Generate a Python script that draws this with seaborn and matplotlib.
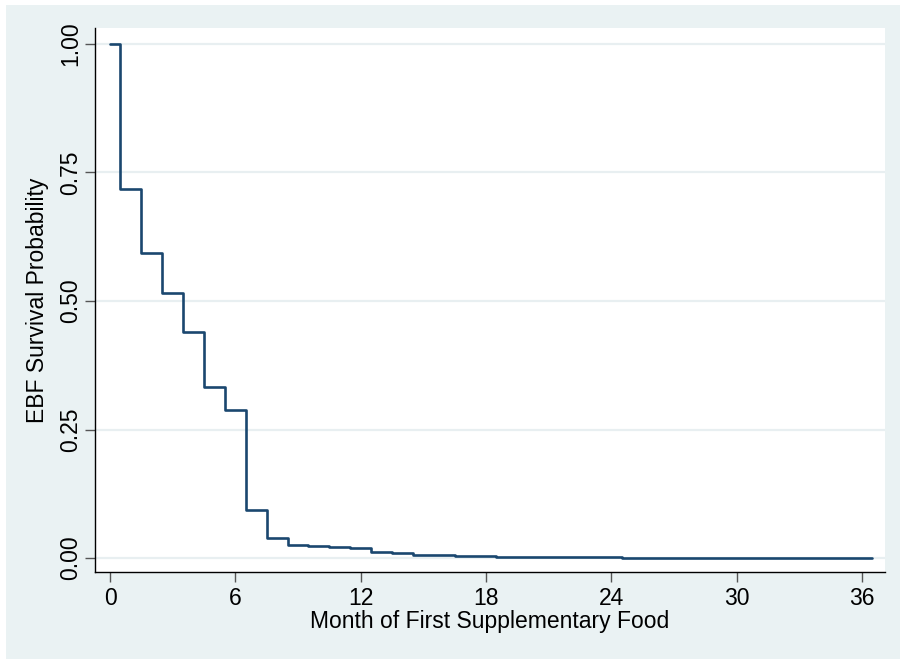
import matplotlib
matplotlib.use("Agg")
import matplotlib.pyplot as plt
from matplotlib.patches import Rectangle
import seaborn as sns
import pandas as pd

# Kaplan-Meier step data (month, survival probability)
months = [0, 0.5, 1.5, 2.5, 3.5, 4.5, 5.5, 6.5, 7.5, 8.5, 9.5, 10.5, 11.5,
          12.5, 13.5, 14.5, 15.5, 16.5, 17.5, 18.5, 19.5, 20.5, 22.5, 23.5,
          24.5, 36.5]
survival = [1.0, 0.718, 0.594, 0.515, 0.440, 0.333, 0.289, 0.093, 0.040,
            0.026, 0.023, 0.021, 0.0195, 0.011, 0.009, 0.007, 0.0058, 0.0045,
            0.0032, 0.0026, 0.0024, 0.0023, 0.0022, 0.0021, 0.0006, 0.0006]
x_ticks = [0, 6, 12, 18, 24, 30, 36]
y_ticks = [0.0, 0.25, 0.5, 0.75, 1.0]
y_tick_labels = ["0.00", "0.25", "0.50", "0.75", "1.00"]
x_label = "Month of First Supplementary Food"
y_label = "EBF Survival Probability"

df = pd.DataFrame({"month": months, "survival": survival})

sns.set_theme(style="white")
plt.rcParams["font.family"] = ["Liberation Sans", "DejaVu Sans"]

BG = "#EAF2F3"
GRID = "#E8EFF1"
LINE = "#1A476F"
FS = 16.5

fig = plt.figure(figsize=(9, 6.61), dpi=100, facecolor="white")
fig.patches.append(Rectangle((6 / 900, 2 / 661), 894 / 900, 654 / 661,
                             transform=fig.transFigure, facecolor=BG,
                             edgecolor="none", zorder=-10))
ax = fig.add_axes([95 / 900, 89 / 661, 790 / 900, 544 / 661])
ax.set_facecolor("white")

sns.lineplot(data=df, x="month", y="survival", ax=ax, color=LINE,
             linewidth=1.9, drawstyle="steps-post", estimator=None, sort=False)

ax.set_xlim(-0.72, 37.1)
ax.set_ylim(-0.027, 1.031)
ax.set_xticks(x_ticks)
ax.set_xticklabels([str(t) for t in x_ticks])
ax.set_yticks(y_ticks)
ax.set_yticklabels(y_tick_labels, rotation=90, va="center")

for y in y_ticks:
    ax.axhline(y, color=GRID, linewidth=1.6, zorder=0)

for s in ["top", "right"]:
    ax.spines[s].set_visible(False)
for s in ["left", "bottom"]:
    ax.spines[s].set_color("#000000")
    ax.spines[s].set_linewidth(1.0)

ax.tick_params(axis="both", which="major", direction="out", length=7.5,
               width=1.0, color="#555555", labelsize=FS, labelcolor="black",
               left=True, bottom=True)
ax.tick_params(axis="y", pad=2)
ax.tick_params(axis="x", pad=3)

ax.set_xlabel(x_label, fontsize=FS, labelpad=0, color="black")
ax.set_ylabel(y_label, fontsize=FS, labelpad=7, color="black")

fig.savefig("out.png", dpi=100, facecolor="white")
